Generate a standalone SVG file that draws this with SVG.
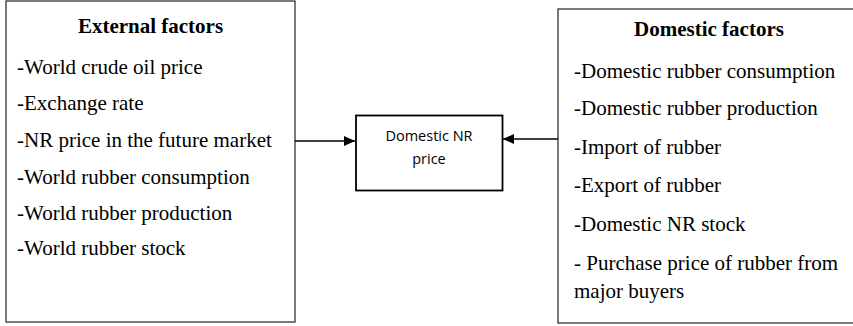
<svg xmlns="http://www.w3.org/2000/svg" width="853" height="326" viewBox="0 0 853 326">
<style>
.box{fill:#fff;stroke:#333;stroke-width:1.3}
.mid{fill:#fff;stroke:#000;stroke-width:1.8}
.t{font-family:"Liberation Serif","Times New Roman",serif;font-size:21px;fill:#000}
.h{font-weight:bold;text-anchor:middle}
.c{font-family:"Open Sans","Liberation Sans",sans-serif;font-size:14.5px;fill:#000;text-anchor:middle}
.ln{stroke:#000;stroke-width:1.6;fill:none}
</style>
<defs>
<marker id="ah" viewBox="0 0 11 10" refX="11" refY="5" markerWidth="11" markerHeight="10" markerUnits="userSpaceOnUse" orient="auto"><path d="M0,0 L11,5 L0,10 z" fill="#000"/></marker>
</defs>
<rect width="853" height="326" fill="#fff"/>
<g id="external">
<rect class="box" x="6" y="1" width="289" height="321"/>
<text class="t h" x="150.5" y="33">External factors</text>
<text class="t" x="17" y="74">-World crude oil price</text>
<text class="t" x="17" y="110">-Exchange rate</text>
<text class="t" x="17" y="147">-NR price in the future market</text>
<text class="t" x="17" y="184">-World rubber consumption</text>
<text class="t" x="17" y="220">-World rubber production</text>
<text class="t" x="17" y="255">-World rubber stock</text>
</g>
<g id="domestic">
<rect class="box" x="558" y="9" width="300" height="314"/>
<text class="t h" x="709" y="36">Domestic factors</text>
<text class="t" x="574" y="78">-Domestic rubber consumption</text>
<text class="t" x="574" y="115">-Domestic rubber production</text>
<text class="t" x="574" y="154">-Import of rubber</text>
<text class="t" x="574" y="192">-Export of rubber</text>
<text class="t" x="574" y="231">-Domestic NR stock</text>
<text class="t" x="574" y="270">- Purchase price of rubber from</text>
<text class="t" x="574" y="298">major buyers</text>
</g>
<g id="price">
<rect class="mid" x="356" y="115.5" width="146.5" height="75"/>
<text class="c" x="429" y="140.5">Domestic NR</text>
<text class="c" x="429" y="163.5">price</text>
</g>
<g id="connectors">
<line class="ln" x1="295" y1="141" x2="355" y2="141" marker-end="url(#ah)"/>
<line class="ln" x1="558" y1="139" x2="503" y2="139" marker-end="url(#ah)"/>
</g>
</svg>
